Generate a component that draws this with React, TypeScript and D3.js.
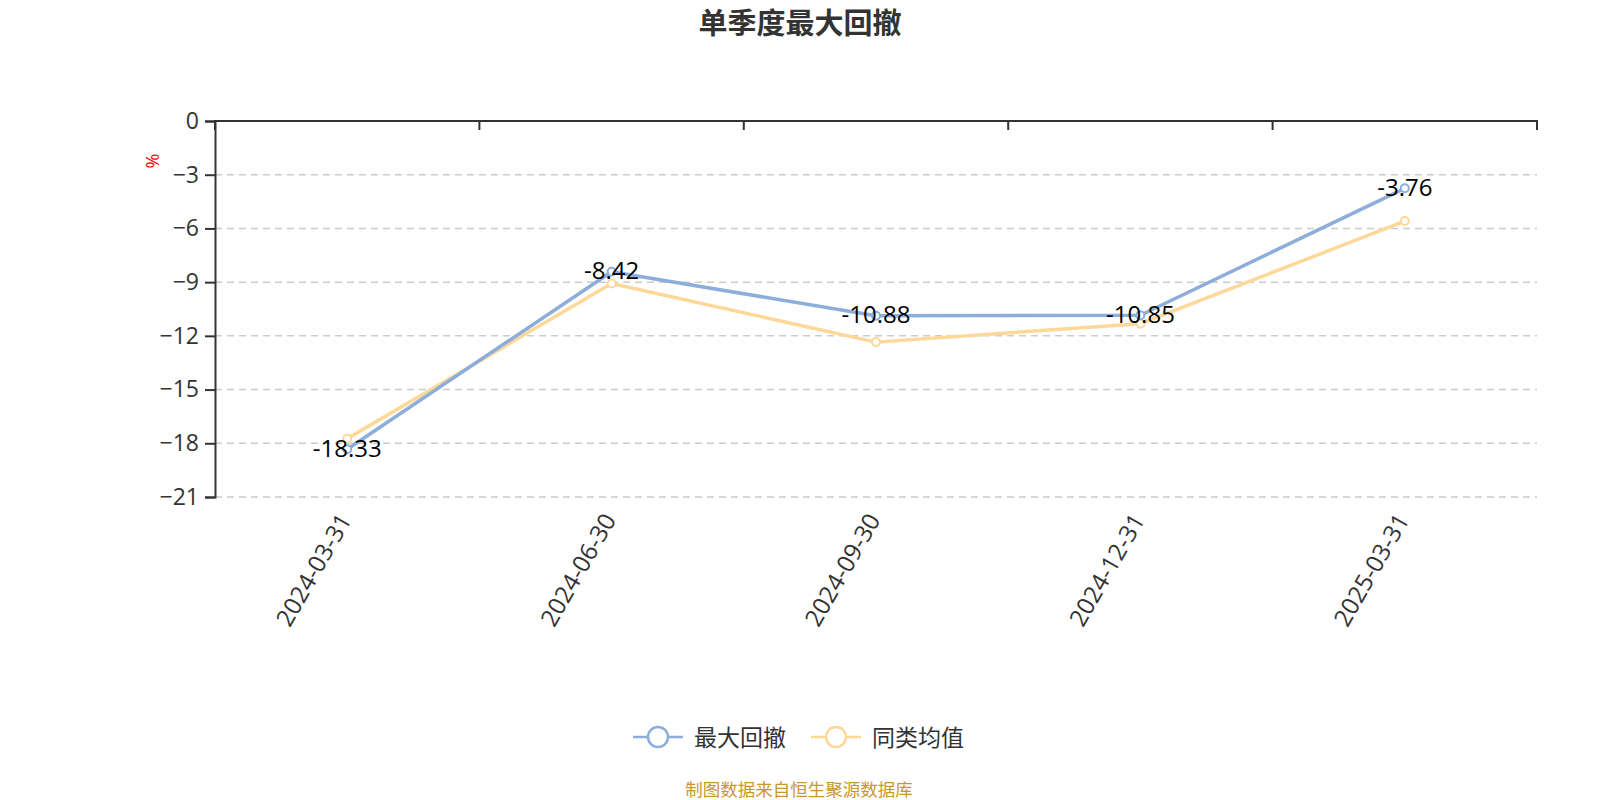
import React, { useEffect, useRef } from "react";
import * as d3 from "d3";

const categories = ["2024-03-31", "2024-06-30", "2024-09-30", "2024-12-31", "2025-03-31"];
const maxDrawdown = [-18.33, -8.42, -10.88, -10.85, -3.76];
const peerAverage = [-17.74, -9.08, -12.35, -11.32, -5.59];
const yTicks = [0, -3, -6, -9, -12, -15, -18, -21];
const seriesNames = ["最大回撤", "同类均值"];
const seriesColors = ["#8dadda", "#fdd898"];

const FONT = "'Open Sans', 'Noto Sans CJK SC', sans-serif";

export default function App() {
  const svgRef = useRef<SVGSVGElement | null>(null);

  useEffect(() => {
    const svg = d3.select(svgRef.current);
    svg.selectAll("*").remove();

    const width = 1600, height = 800;
    const margin = { top: 121, right: 63, bottom: 303, left: 215 };

    const x = d3.scaleBand().domain(categories).range([margin.left, width - margin.right]);
    const y = d3.scaleLinear().domain([-21, 0]).range([height - margin.bottom, margin.top]);

    // title
    svg.append("text")
      .attr("x", 800).attr("y", 34)
      .attr("text-anchor", "middle")
      .attr("font-family", FONT)
      .attr("font-size", 29).attr("font-weight", "bold")
      .attr("fill", "#333")
      .text("单季度最大回撤");

    // grid lines
    svg.append("g").selectAll("line")
      .data(yTicks.filter(t => t !== 0))
      .enter().append("line")
      .attr("x1", margin.left).attr("x2", width - margin.right)
      .attr("y1", d => y(d)).attr("y2", d => y(d))
      .attr("stroke", "#ccc").attr("stroke-width", 1.5)
      .attr("stroke-dasharray", "7,5");

    // y axis
    const yAxis = svg.append("g")
      .attr("transform", `translate(${margin.left},0)`)
      .call(d3.axisLeft(y).tickValues(yTicks).tickSize(10).tickPadding(6));
    yAxis.select(".domain").attr("stroke", "#333").attr("stroke-width", 2);
    yAxis.selectAll(".tick line").attr("stroke", "#333").attr("stroke-width", 2);
    yAxis.selectAll(".tick text")
      .attr("font-family", FONT).attr("font-size", 23).attr("fill", "#333");

    // x axis line at zero with ticks on the category boundaries
    const xAxis = svg.append("g");
    xAxis.append("line")
      .attr("x1", margin.left - 1).attr("x2", width - margin.right + 1)
      .attr("y1", y(0)).attr("y2", y(0))
      .attr("stroke", "#333").attr("stroke-width", 2);
    const bounds = categories.map(c => x(c) as number).concat([width - margin.right]);
    xAxis.selectAll(".xt")
      .data(bounds)
      .enter().append("line")
      .attr("x1", d => d).attr("x2", d => d)
      .attr("y1", y(0)).attr("y2", y(0) + 9)
      .attr("stroke", "#333").attr("stroke-width", 2);

    // x labels
    const labelY = y(-21) + 18;
    svg.append("g").selectAll("text")
      .data(categories)
      .enter().append("text")
      .attr("transform", d => `translate(${(x(d) as number) + x.bandwidth() / 2 - 3},${labelY}) rotate(-60)`)
      .attr("text-anchor", "end")
      .attr("dominant-baseline", "central")
      .attr("font-family", FONT).attr("font-size", 24).attr("fill", "#333")
      .text(d => d);

    // unit label
    svg.append("text")
      .attr("transform", `translate(152,161) rotate(-90)`)
      .attr("text-anchor", "middle")
      .attr("dominant-baseline", "central")
      .attr("font-family", FONT).attr("font-size", 18).attr("fill", "red")
      .text("%");

    const cx = (c: string) => (x(c) as number) + x.bandwidth() / 2;
    const series = [maxDrawdown, peerAverage];

    // draw yellow below blue
    [1, 0].forEach(i => {
      const vals = series[i];
      const line = d3.line<number>()
        .x((_, j) => cx(categories[j]))
        .y(d => y(d));
      svg.append("path")
        .datum(vals)
        .attr("d", line)
        .attr("fill", "none")
        .attr("stroke", seriesColors[i])
        .attr("stroke-width", 3.5)
        .attr("stroke-linejoin", "round");
      svg.append("g").selectAll("circle")
        .data(vals)
        .enter().append("circle")
        .attr("cx", (_, j) => cx(categories[j]))
        .attr("cy", d => y(d))
        .attr("r", 4)
        .attr("fill", "#fff")
        .attr("stroke", seriesColors[i])
        .attr("stroke-width", 2);
    });

    // data labels for main series
    svg.append("g").selectAll("text")
      .data(maxDrawdown)
      .enter().append("text")
      .attr("x", (_, j) => cx(categories[j]))
      .attr("y", d => y(d) - 2)
      .attr("text-anchor", "middle")
      .attr("dominant-baseline", "central")
      .attr("font-family", FONT).attr("font-size", 24).attr("fill", "#000")
      .text(d => d.toFixed(2));

    // legend
    const legendItems = [
      { name: seriesNames[0], color: seriesColors[0], x0: 633 },
      { name: seriesNames[1], color: seriesColors[1], x0: 811 },
    ];
    const ly = 737;
    const lg = svg.append("g");
    legendItems.forEach(it => {
      lg.append("line")
        .attr("x1", it.x0).attr("x2", it.x0 + 50)
        .attr("y1", ly).attr("y2", ly)
        .attr("stroke", it.color).attr("stroke-width", 2.5);
      lg.append("circle")
        .attr("cx", it.x0 + 25).attr("cy", ly).attr("r", 10)
        .attr("fill", "#fff").attr("stroke", it.color).attr("stroke-width", 2.5);
      lg.append("text")
        .attr("x", it.x0 + 61).attr("y", ly)
        .attr("dominant-baseline", "central")
        .attr("font-family", FONT).attr("font-size", 23).attr("fill", "#333")
        .text(it.name);
    });

    // source note
    svg.append("text")
      .attr("x", 799).attr("y", 789)
      .attr("text-anchor", "middle")
      .attr("dominant-baseline", "central")
      .attr("font-family", FONT).attr("font-size", 17.5).attr("fill", "#c9962f")
      .text("制图数据来自恒生聚源数据库");
  }, []);

  return (
    <svg
      ref={svgRef}
      width={1600}
      height={800}
      style={{ position: "absolute", left: 0, top: 0, background: "#fff" }}
    />
  );
}
